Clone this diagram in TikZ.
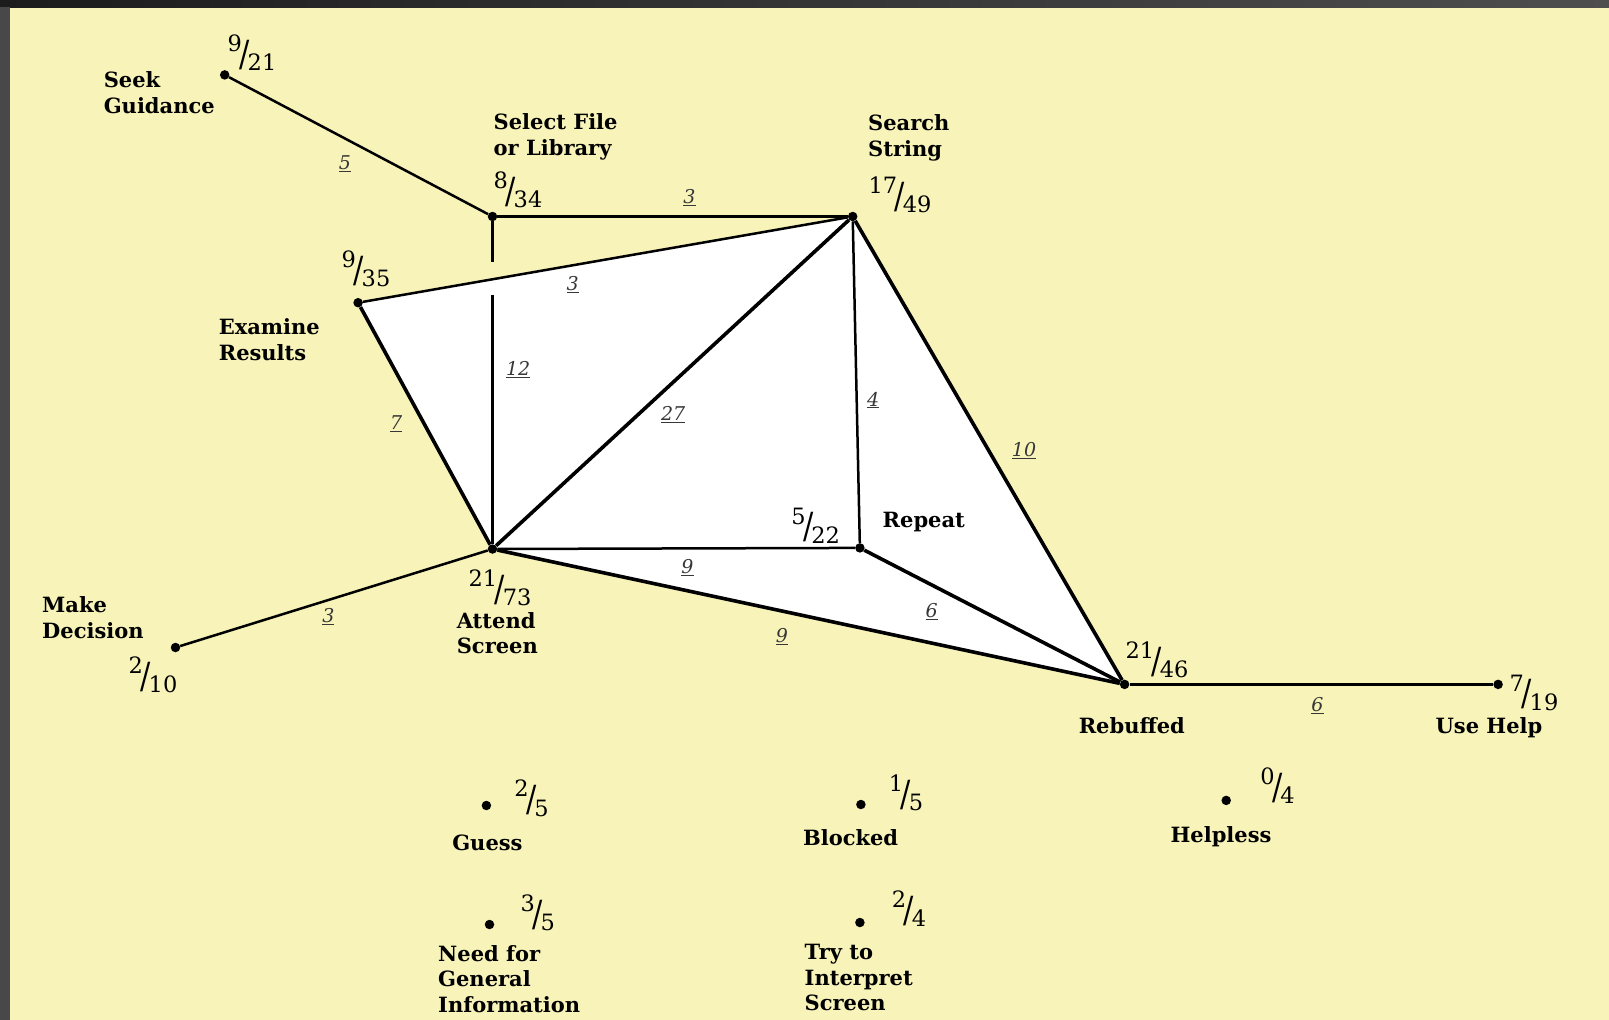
\documentclass[tikz,border=0pt]{standalone}
\usepackage{graphicx}
\usepackage{fontspec}
\setmainfont{DejaVu Serif}
\usetikzlibrary{calc}
\definecolor{bgY}{RGB}{247,243,185}
\definecolor{frameL}{RGB}{72,72,72}
\definecolor{frameA}{RGB}{28,28,28}
\definecolor{frameB}{RGB}{78,78,78}
\definecolor{elab}{RGB}{55,55,55}
\newcommand\frc[2]{\raisebox{0.40em}{#1}\kern-0.1em\raisebox{-0.24em}{\scalebox{1.35}[1.6]{/}}\kern-0.1em\raisebox{-0.45em}{#2}}
\pgfdeclarelayer{bg}
\pgfsetlayers{bg,main}
\begin{document}
\begin{tikzpicture}[x=1pt,y=-1pt,
 dot/.style={circle,fill=black,inner sep=0pt,minimum size=9.5pt},
 thickedge/.style={line width=3.6pt},
 thinedge/.style={line width=2.5pt},
 lab/.style={inner sep=0pt,font=\fontsize{21}{25.6}\selectfont\bfseries,align=left},
 frac/.style={inner sep=0pt,font=\fontsize{22.5}{25}\selectfont},
 elabel/.style={inner sep=0pt,font=\fontsize{19}{22}\selectfont\itshape,text=elab}]
\useasboundingbox (0,0) rectangle (1609,1020);

% state dots
\node[dot] (SG) at (224.7,74.9) {};
\node[dot] (SF) at (492.5,216.5) {};
\node[dot] (SS) at (852.7,216.5) {};
\node[dot] (ER) at (358.1,302.7) {};
\node[dot] (AS) at (492.5,549.0) {};
\node[dot] (RP) at (859.9,547.9) {};
\node[dot] (RB) at (1124.6,684.4) {};
\node[dot] (UH) at (1498.1,684.4) {};
\node[dot] (MD) at (175.5,647.5) {};
\node[dot] (GU) at (486.4,805.5) {};
\node[dot] (BL) at (860.9,804.5) {};
\node[dot] (HL) at (1226.2,800.4) {};
\node[dot] (NG) at (489.5,924.5) {};
\node[dot] (TI) at (859.9,922.5) {};

\begin{pgfonlayer}{bg}
\fill[bgY] (0,0) rectangle (1609,1020);
\shade[left color=frameA,right color=frameB] (0,0) rectangle (1609,7);
\fill[frameL] (0,7) rectangle (10,1020);
\fill[white] (ER.center) -- (SS.center) -- (RB.center) -- (AS.center) -- cycle;
\end{pgfonlayer}

% connectors
\draw[thinedge] (SG) -- (SF);
\draw[thinedge] (SF) -- (SS);
\draw[thinedge] (ER) -- (SS);
\draw[thinedge] (SF) -- ($(SF)!0.137!(AS)$);
\draw[thinedge] ($(SF)!0.236!(AS)$) -- (AS);
\draw[thinedge] (SS) -- (RP);
\draw[thinedge] (AS) -- (RP);
\draw[thinedge] (MD) -- (AS);
\draw[thinedge] (RB) -- (UH);
\draw[thickedge] (ER) -- (AS);
\draw[thickedge] (AS) -- (SS);
\draw[thickedge] (SS) -- (RB);
\draw[thickedge] (RP) -- (RB);
\draw[thickedge] (AS) -- (RB);

% edge labels
\node[elabel] (e1) at (344.8,164.2) {\underline{5}};
\node[elabel] (e2) at (689.5,198.0) {\underline{3}};
\node[elabel] (e3) at (572.6,284.2) {\underline{3}};
\node[elabel] (e4) at (518.2,369.4) {\underline{12}};
\node[elabel] (e5) at (673.1,414.5) {\underline{27}};
\node[elabel] (e6) at (873.2,400.2) {\underline{4}};
\node[elabel] (e7) at (396.1,423.8) {\underline{7}};
\node[elabel] (e8) at (1024.0,450.5) {\underline{10}};
\node[elabel] (e9) at (687.5,567.4) {\underline{9}};
\node[elabel] (e10) at (931.7,611.6) {\underline{6}};
\node[elabel] (e11) at (781.9,636.2) {\underline{9}};
\node[elabel] (e12) at (328.4,616.7) {\underline{3}};
\node[elabel] (e13) at (1317.5,706.0) {\underline{6}};

% fractions
\node[frac] (fSG) at (252,53) {\frc{9}{21}};
\node[frac] (fSF) at (518,190) {\frc{8}{34}};
\node[frac] (fSS) at (900,195) {\frc{17}{49}};
\node[frac] (fER) at (366,269) {\frc{9}{35}};
\node[frac] (fAS) at (500,588) {\frc{21}{73}};
\node[frac] (fMD) at (153,675) {\frc{2}{10}};
\node[frac] (fRP) at (815.7,525.4) {\frc{5}{22}};
\node[frac] (fRB) at (1157,660) {\frc{21}{46}};
\node[frac] (fUH) at (1534,692.6) {\frc{7}{19}};
\node[frac] (fGU) at (531.5,798.3) {\frc{2}{5}};
\node[frac] (fBL) at (906,793) {\frc{1}{5}};
\node[frac] (fHL) at (1277.5,786) {\frc{0}{4}};
\node[frac] (fNG) at (537.7,913.2) {\frc{3}{5}};
\node[frac] (fTI) at (909,909) {\frc{2}{4}};

% state labels
\node[lab,anchor=west] (lSG) at (103.6,92.9) {Seek\\Guidance};
\node[lab,anchor=west] (lSF) at (493.5,137) {Select File\\or Library};
\node[lab,anchor=west] (lSS) at (868,138) {Search\\String};
\node[lab,anchor=west] (lER) at (218.6,339.5) {Examine\\Results};
\node[lab,anchor=west] (lAS) at (456.6,633.2) {Attend\\Screen};
\node[lab,anchor=west] (lMD) at (42,617.7) {Make\\Decision};
\node[lab,anchor=west] (lRP) at (882.5,522.3) {Repeat};
\node[lab] (lRB) at (1131.8,725.4) {Rebuffed};
\node[lab] (lUH) at (1489,727.5) {Use Help};
\node[lab] (lGU) at (487.4,842.4) {Guess};
\node[lab] (lBL) at (850.6,837.3) {Blocked};
\node[lab] (lHL) at (1221,836.3) {Helpless};
\node[lab,anchor=west] (lNG) at (438,978.9) {Need for\\General\\Information};
\node[lab,anchor=west] (lTI) at (804.5,977.5) {Try to\\Interpret\\Screen};
\end{tikzpicture}
\end{document}
